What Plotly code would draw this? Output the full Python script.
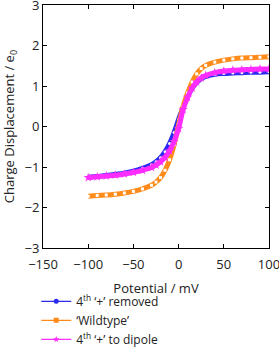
import plotly.graph_objects as go

potential = [-100, -90, -80, -70, -60, -50, -40, -30, -25, -20, -15, -10, -5, 0,
             5, 10, 15, 20, 25, 30, 40, 50, 60, 70, 80, 90, 100]

removed = [-1.25, -1.23, -1.21, -1.18, -1.15, -1.10, -1.03, -0.94, -0.87, -0.77, -0.62, -0.42, -0.15, 0.18,
           0.47, 0.74, 0.95, 1.09, 1.18, 1.24, 1.29, 1.31, 1.32, 1.33, 1.34, 1.34, 1.35]

wildtype = [-1.72, -1.70, -1.69, -1.67, -1.64, -1.60, -1.54, -1.45, -1.37, -1.26, -1.08, -0.82, -0.45, 0.05,
            0.50, 0.83, 1.10, 1.30, 1.43, 1.51, 1.59, 1.64, 1.67, 1.69, 1.70, 1.71, 1.72]

dipole = [-1.26, -1.24, -1.22, -1.20, -1.17, -1.13, -1.08, -1.01, -0.95, -0.87, -0.76, -0.60, -0.37, -0.05,
          0.42, 0.72, 0.95, 1.10, 1.20, 1.26, 1.33, 1.37, 1.39, 1.40, 1.41, 1.42, 1.42]

names = ["4<sup>th</sup> \u2018+\u2019 removed", "\u2018Wildtype\u2019", "4<sup>th</sup> \u2018+\u2019 to dipole"]
colors = ["#2a2af0", "#ff8c1a", "#ff2cff"]
symbols = ["circle", "square", "star"]
series = [removed, wildtype, dipole]

FONT = "Open Sans, DejaVu Sans, sans-serif"
FS = 13
W, H = 279, 354
ML, MR, MT, MB = 43, 10, 5, 0
PLOT_BOTTOM_PX = 256
LEGEND_TOP_PX = 296

paper_h = H - MT - MB
y_domain_lo = (H - MB - PLOT_BOTTOM_PX) / paper_h
legend_y = (H - MB - LEGEND_TOP_PX) / paper_h

fig = go.Figure()
for vals, name, col, sym in zip(series, names, colors, symbols):
    if sym == "star":
        mk = dict(symbol="star", size=7, color=col)
    else:
        mk = dict(symbol=sym, size=3, color="white")
    fig.add_trace(go.Scatter(x=potential, y=vals, mode="lines+markers", line=dict(color=col, width=5, shape="spline"),
                             marker=mk, showlegend=False, hoverinfo="skip"))

for name, col, sym in zip(names, colors, symbols):
    fig.add_trace(go.Scatter(x=[None], y=[None], mode="lines+markers", name=name,
                             line=dict(color=col, width=1.2),
                             marker=dict(symbol=sym, size=5, color=col)))

axis_common = dict(showline=True, linecolor="black", linewidth=1, mirror="ticks", ticks="inside",
                   ticklen=4, tickcolor="black", showgrid=False, zeroline=False,
                   ticklabeloverflow="allow", automargin=False,
                   tickfont=dict(family=FONT, size=FS, color="#222"))

fig.update_layout(
    width=W, height=H,
    margin=dict(l=ML, r=MR, t=MT, b=MB),
    plot_bgcolor="white", paper_bgcolor="white",
    font=dict(family=FONT, size=FS, color="#222"),
    xaxis=dict(range=[-150, 100], tickvals=[-150, -100, -50, 0, 50, 100],
               ticktext=["\u2212150", "\u2212100", "\u221250", "0", "50", "100"],
               ticklabelstandoff=4,
               title=dict(text="Potential / mV", standoff=12, font=dict(family=FONT, size=FS)), **axis_common),
    yaxis=dict(range=[-3, 3], tickvals=[-3, -2, -1, 0, 1, 2, 3], domain=[y_domain_lo, 1],
               ticktext=["\u22123", "\u22122", "\u22121", "0", "1", "2", "3"],
               title=dict(text="Charge Displacement / e<sub>0</sub>", standoff=9, font=dict(family=FONT, size=FS)),
               **axis_common),
    legend=dict(x=-0.03, xanchor="left", y=legend_y, yanchor="top",
                bgcolor="rgba(0,0,0,0)", borderwidth=0,
                font=dict(family=FONT, size=12, color="#222"), tracegroupgap=0),
)

fig.write_html("out.html", config={"displayModeBar": False},
               post_script="document.body.style.margin='0';")
